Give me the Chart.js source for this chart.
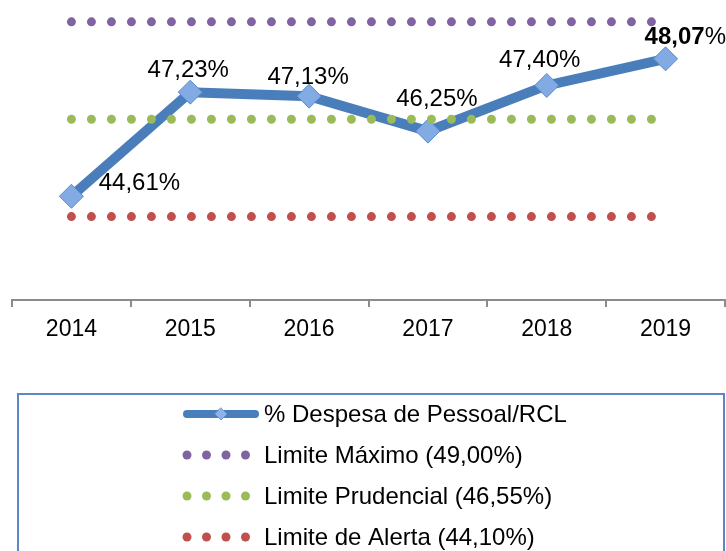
<!DOCTYPE html>
<html>
<head>
<meta charset="utf-8">
<script src="https://cdn.jsdelivr.net/npm/chart.js@4"></script>
<style>
  html, body { margin: 0; padding: 0; background: #fff; }
  #wrap { width: 726px; height: 551px; position: relative; }
</style>
</head>
<body>
<div id="wrap"><canvas id="chart"></canvas></div>
<script>
const years = ['2014', '2015', '2016', '2017', '2018', '2019'];
const despesa = [44.61, 47.23, 47.13, 46.25, 47.40, 48.07];
const limiteMaximo = [49.00, 49.00, 49.00, 49.00, 49.00, 49.00];
const limitePrudencial = [46.55, 46.55, 46.55, 46.55, 46.55, 46.55];
const limiteAlerta = [44.10, 44.10, 44.10, 44.10, 44.10, 44.10];
const seriesNames = [
  '% Despesa de Pessoal/RCL',
  'Limite Máximo (49,00%)',
  'Limite Prudencial (46,55%)',
  'Limite de Alerta (44,10%)'
];

const FONT = "'Liberation Sans', Arial, sans-serif";
Chart.defaults.font.family = FONT;
Chart.defaults.color = '#000';

const fmt = v => v.toFixed(2).replace('.', ',');

// value labels next to the blue markers (offsets in px from the point)
const labelOffsets = [[68, -13], [-2, -22], [-1, -19], [9, -32], [-7, -25], [0, -21]];

const valueLabels = {
  id: 'valueLabels',
  afterDatasetsDraw(chart) {
    const ctx = chart.ctx;
    const meta = chart.getDatasetMeta(0);
    ctx.save();
    ctx.fillStyle = '#000';
    ctx.textBaseline = 'middle';
    meta.data.forEach((pt, i) => {
      const [dx, dy] = labelOffsets[i];
      const txt = fmt(despesa[i]);
      if (i === despesa.length - 1) {
        // last value is bold, percent sign regular
        ctx.font = 'bold 24px ' + FONT;
        ctx.textAlign = 'left';
        const x0 = pt.x - 21;
        ctx.fillText(txt, x0, pt.y + dy);
        const w = ctx.measureText(txt).width;
        ctx.font = '24px ' + FONT;
        ctx.fillText('%', x0 + w, pt.y + dy);
      } else {
        ctx.font = '24px ' + FONT;
        ctx.textAlign = 'center';
        ctx.fillText(txt + '%', pt.x + dx, pt.y + dy);
      }
    });
    ctx.restore();
  }
};

// boxed vertical legend under the axis
const boxLegend = {
  id: 'boxLegend',
  afterDraw(chart) {
    const ctx = chart.ctx;
    ctx.save();
    ctx.strokeStyle = '#5B87C5';
    ctx.lineWidth = 2;
    ctx.strokeRect(18, 394, 706, 200);
    ctx.font = '24px ' + FONT;
    ctx.textAlign = 'left';
    ctx.textBaseline = 'middle';
    chart.data.datasets.forEach((ds, i) => {
      const y = 414 + i * 41;
      if (i === 0) {
        ctx.strokeStyle = ds.borderColor;
        ctx.lineWidth = 8;
        ctx.lineCap = 'round';
        ctx.beginPath();
        ctx.moveTo(187, y);
        ctx.lineTo(255, y);
        ctx.stroke();
        ctx.fillStyle = '#8DB3E8';
        ctx.strokeStyle = '#6A96D4';
        ctx.lineWidth = 1;
        ctx.beginPath();
        ctx.moveTo(221, y - 6);
        ctx.lineTo(227, y);
        ctx.lineTo(221, y + 6);
        ctx.lineTo(215, y);
        ctx.closePath();
        ctx.fill();
        ctx.stroke();
      } else {
        ctx.fillStyle = ds.borderColor;
        for (let k = 0; k < 4; k++) {
          ctx.beginPath();
          ctx.arc(187 + k * 19.5, y, 4.5, 0, Math.PI * 2);
          ctx.fill();
        }
      }
      ctx.fillStyle = '#000';
      ctx.fillText(ds.label, 264, y + 1);
    });
    ctx.restore();
  }
};

const dotted = (label, data, color) => ({
  label,
  data,
  borderColor: color,
  backgroundColor: color,
  borderWidth: 9,
  borderDash: [0, 20],
  borderCapStyle: 'round',
  pointRadius: 0,
  pointHoverRadius: 0,
  order: 0
});

new Chart(document.getElementById('chart'), {
  type: 'line',
  data: {
    labels: years,
    datasets: [
      {
        label: seriesNames[0],
        data: despesa,
        borderColor: '#4A7EBB',
        borderWidth: 10,
        pointStyle: 'rectRot',
        pointRadius: 12,
        pointBackgroundColor: '#82AAE3',
        pointBorderColor: '#5A8AD0',
        pointBorderWidth: 1,
        tension: 0,
        order: 1
      },
      dotted(seriesNames[1], limiteMaximo, '#8064A2'),
      dotted(seriesNames[2], limitePrudencial, '#9BBB59'),
      dotted(seriesNames[3], limiteAlerta, '#C0504D')
    ]
  },
  options: {
    responsive: true,
    maintainAspectRatio: false,
    animation: false,
    layout: { autoPadding: false, padding: { top: 2, left: 12, right: 1, bottom: 191 } },
    plugins: {
      legend: { display: false },
      tooltip: { enabled: false }
    },
    scales: {
      x: {
        offset: true,
        grid: {
          offset: true,
          drawOnChartArea: false,
          drawTicks: true,
          tickLength: 7,
          color: '#8C8C8C',
          lineWidth: 2
        },
        border: { display: true, color: '#8C8C8C', width: 2 },
        ticks: { font: { size: 23 }, color: '#000', padding: 9 },
        afterFit(scale) { scale.height = 60; }
      },
      y: {
        display: false,
        min: 42,
        max: 49.5
      }
    }
  },
  plugins: [valueLabels, boxLegend]
});
</script>
</body>
</html>
